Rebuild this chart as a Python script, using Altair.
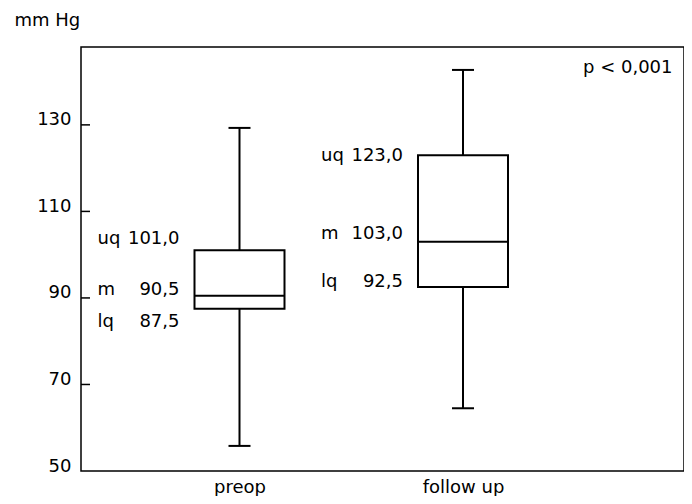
import altair as alt
import pandas as pd

# ---- data ----
groups = ["preop", "follow up"]
lower_whisker = [55.8, 64.5]
lower_quartile = [87.5, 92.5]
medians = [90.5, 103.0]
upper_quartile = [101.0, 123.0]
upper_whisker = [129.3, 142.7]
y_tick_values = [50, 70, 90, 110, 130]
inner_tick_values = [70, 90, 110, 130]
stat_names = ["uq", "m", "lq"]
p_text = "p < 0,001"
y_title = "mm Hg"

FONT = "DejaVu Sans"
FS = 18


def fmt(v):
    return f"{v:.1f}".replace(".", ",")


df = pd.DataFrame({
    "group": groups,
    "lw": lower_whisker,
    "lq": lower_quartile,
    "med": medians,
    "uq": upper_quartile,
    "uw": upper_whisker,
})

stat_values = {"uq": upper_quartile, "m": medians, "lq": lower_quartile}
rows = []
for i, g in enumerate(groups):
    for s in stat_names:
        v = stat_values[s][i]
        rows.append({"group": g, "stat": s, "value": v, "label": fmt(v)})
ann = pd.DataFrame(rows)
ticks_df = pd.DataFrame({"v": inner_tick_values})

x_enc = alt.X(
    "group:N",
    sort=groups,
    scale=alt.Scale(type="point", domain=groups, range=[158.5, 382], padding=0),
    axis=alt.Axis(title=None, labelAngle=0, domain=False, ticks=False,
                  labelPadding=7, labelFontSize=FS, labelFont=FONT,
                  labelColor="black"),
)

y_scale = alt.Scale(domain=[50, 148], nice=False, zero=False)
y_axis = alt.Axis(
    values=y_tick_values, grid=False, ticks=False, domain=False,
    labelPadding=10, labelOffset=-5, labelFontSize=FS, labelFont=FONT,
    labelColor="black", title=y_title, titleAngle=0, titleAlign="left",
    titleBaseline="middle", titleX=-67, titleY=-27, titleFont=FONT,
    titleFontSize=FS, titleFontWeight="normal", titleColor="black",
)


def Y(field):
    return alt.Y(f"{field}:Q", scale=y_scale, axis=y_axis)


base = alt.Chart(df)

whisker = base.mark_rule(color="black", strokeWidth=2).encode(
    x=x_enc, y=Y("lw"), y2=alt.Y2("uw:Q"))
cap_low = base.mark_tick(color="black", size=22, thickness=2, opacity=1).encode(
    x=x_enc, y=Y("lw"))
cap_high = base.mark_tick(color="black", size=22, thickness=2, opacity=1).encode(
    x=x_enc, y=Y("uw"))
box = base.mark_bar(size=90, fill="white", stroke="black", strokeWidth=2,
                    opacity=1).encode(x=x_enc, y=Y("lq"), y2=alt.Y2("uq:Q"))
median = base.mark_tick(color="black", size=90, thickness=2, opacity=1).encode(
    x=x_enc, y=Y("med"))

inner_ticks = alt.Chart(ticks_df).mark_rule(color="black", strokeWidth=1.5).encode(
    y=Y("v"), x=alt.value(0), x2=alt.value(9))

# label nudges (pixels) so the annotations sit where the reference prints them
dys = {
    ("preop", "uq"): -11, ("preop", "m"): -6, ("preop", "lq"): 13,
    ("follow up", "uq"): 1, ("follow up", "m"): -8, ("follow up", "lq"): -5,
}
text_layers = []
for g in groups:
    for s in stat_names:
        a = alt.Chart(ann).transform_filter(
            (alt.datum.stat == s) & (alt.datum.group == g))
        d = dys[(g, s)]
        text_layers.append(
            a.mark_text(align="left", baseline="middle", dx=-142, dy=d,
                        font=FONT, fontSize=FS, color="black").encode(
                x=x_enc, y=Y("value"), text="stat:N"))
        text_layers.append(
            a.mark_text(align="right", baseline="middle", dx=-60, dy=d,
                        font=FONT, fontSize=FS, color="black").encode(
                x=x_enc, y=Y("value"), text="label:N"))

p_layer = alt.Chart(pd.DataFrame({"t": [p_text]})).mark_text(
    align="left", baseline="middle", font=FONT, fontSize=FS, color="black"
).encode(x=alt.value(502), y=alt.value(21), text="t:N")

chart = alt.layer(
    whisker, cap_low, cap_high, box, median, inner_ticks, *text_layers, p_layer
).properties(
    width=603,
    height=424,
    autosize=alt.AutoSizeParams(type="none"),
    padding={"left": 73, "top": 39, "right": 0, "bottom": 25},
    background="white",
).configure_view(stroke="black", strokeWidth=1.5)

chart.save("out.html", embed_options={"renderer": "svg", "actions": False})
